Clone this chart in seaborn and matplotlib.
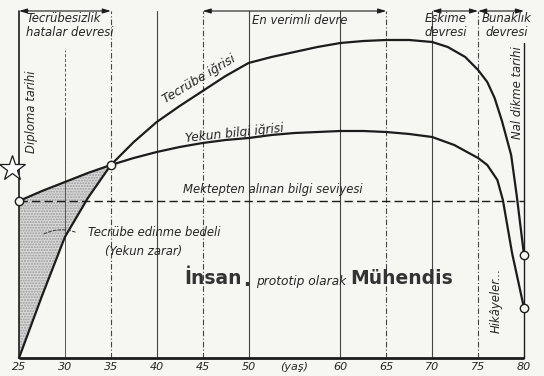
import matplotlib
matplotlib.use("Agg")
import matplotlib.pyplot as plt
import pandas as pd
import seaborn as sns

# ---- data (age, level in arbitrary units 0..350) ----
exp_ages = [25, 27.5, 30, 32.5, 35, 37.5, 40, 42.5, 45, 47.5, 50, 52.5, 55, 57.5,
            60, 62.5, 65, 67.5, 70, 71.7, 73.6, 75, 76, 76.8, 77.6, 78.6, 79.2, 80]
exp_vals = [0, 62, 121, 160, 193, 216, 236, 252, 267, 282, 295, 301, 306, 311,
            315, 317, 318, 318, 316, 311, 301, 288, 276, 260, 237, 203, 163, 103]

kno_ages = [25, 27.5, 30, 32.5, 35, 37.5, 40, 42.5, 45, 47.5, 50, 52.5, 55, 57.5,
            60, 62.5, 65, 67.5, 70, 72.4, 74, 75, 76, 77.1, 77.7, 78.7, 80]
kno_vals = [157, 167, 176, 185, 193, 200, 206, 211, 215, 218, 220, 223, 225, 226,
            227, 227, 226, 224, 221, 213, 205, 200, 193, 178, 158, 105, 50]

school_level = 157
tick_ages = [25, 30, 35, 40, 45, 50, 55, 60, 65, 70, 75, 80]
tick_labels = ["25", "30", "35", "40", "45", "50", "(yaş)", "60", "65", "70", "75", "80"]
solid_grid = [40, 50, 60, 70]
dashed_grid = [35, 45, 65, 75]
periods = [(25, 35), (45, 65), (70, 75), (75, 80)]

sns.set_theme(style="white")
plt.rcParams["font.family"] = ["DejaVu Sans"]

ink = "#1c1c1c"
paper = "#f6f6f3"

fig = plt.figure(figsize=(5.44, 3.76), dpi=100, facecolor=paper)
ax = fig.add_axes([19 / 544, 18 / 376, 505 / 544, 350 / 376])
ax.set_facecolor(paper)
ax.set_xlim(25, 80)
ax.set_ylim(0, 350)

# grid lines
ax.plot([25, 25], [0, 347], color=ink, lw=1.2, clip_on=False)
ax.plot([30, 30], [0, 308], color="#555", lw=0.7, ls=(0, (3, 2)))
ax.plot([30, 30], [0, 240], color="#555", lw=0.7)
for g in solid_grid:
    ax.plot([g, g], [0, 347], color="#444", lw=0.8, clip_on=False)
for g in dashed_grid:
    ax.plot([g, g], [0, 347], color="#444", lw=0.8, ls=(0, (5, 2, 1, 2)), clip_on=False)
ax.plot([80, 80], [0, 315], color=ink, lw=1.0, clip_on=False)

# school knowledge level
ax.plot([25, 80], [school_level, school_level], color=ink, lw=1.0, ls=(0, (6, 3)), clip_on=False)

# curves through seaborn
df_exp = pd.DataFrame({"yas": exp_ages, "deger": exp_vals})
df_kno = pd.DataFrame({"yas": kno_ages, "deger": kno_vals})
sns.lineplot(data=df_exp, x="yas", y="deger", ax=ax, color=ink, lw=1.6, sort=False, clip_on=False)
sns.lineplot(data=df_kno, x="yas", y="deger", ax=ax, color=ink, lw=1.6, sort=False, clip_on=False)

# shaded loss area between 25 and 35
shade_x = [a for a in exp_ages if a <= 35]
lo = [v for a, v in zip(exp_ages, exp_vals) if a <= 35]
hi = [v for a, v in zip(kno_ages, kno_vals) if a <= 35]
ax.fill_between(shade_x, lo, hi, facecolor="#dadada", edgecolor="#9a9a9a", hatch="......", lw=0)

# markers
ax.plot([25, 35, 80, 80], [school_level, 193, 103, 50], ls="none", marker="o", ms=6,
        mfc=paper, mec=ink, mew=1.0, clip_on=False, zorder=5)
ax.plot([24.2], [190], marker="*", ms=19, mfc="white", mec=ink, mew=0.9, clip_on=False, zorder=5)

# period brackets at the top
for a, b in periods:
    ax.annotate("", xy=(b, 347), xytext=(a, 347), annotation_clip=False,
                arrowprops=dict(arrowstyle="<|-|>,head_length=0.4,head_width=0.12",
                                color=ink, lw=0.8, shrinkA=0, shrinkB=0))

fs = 8.4
it = dict(style="italic", color="#262626", fontsize=fs)
ax.text(25.8, 346, "Tecrübesizlik\nhatalar devresi", ha="left", va="top", linespacing=1.1, **it)
ax.text(50.4, 338, "En verimli devre", ha="left", va="center", **it)
ax.text(71.5, 346, "Eskime\ndevresi", ha="center", va="top", linespacing=1.1, **it)
ax.text(78.1, 346, "Bunaklık\ndevresi", ha="center", va="top", linespacing=1.1, **it)
ax.text(26.4, 246, "Diploma tarihi", ha="center", va="center", rotation=90, **it)
ax.text(79.3, 265, "Nal dikme tarihi", ha="center", va="center", rotation=90, **it)
ax.text(77.0, 58, "Hikâyeler...", ha="center", va="center", rotation=90, **it)
ax.text(40.9, 255, "Tecrübe iğrisi", ha="left", va="baseline", rotation=31,
        rotation_mode="anchor", fontsize=8.9, style="italic", color="#262626")
ax.text(48.5, 225, "Yekun bilgi iğrisi", ha="center", va="center", rotation=6,
        rotation_mode="anchor", fontsize=8.8, style="italic", color="#262626")
ax.text(52.6, 169, "Mektepten alınan bilgi seviyesi", ha="center", va="center", **it)
ax.text(39.7, 125, "Tecrübe edinme bedeli", ha="center", va="center", **it)
ax.text(38.6, 106, "(Yekun zarar)", ha="center", va="center", **it)
ax.annotate("", xy=(27.3, 122), xytext=(31.4, 125),
            arrowprops=dict(arrowstyle="-", ls=(0, (3, 2)), color="#333", lw=0.7,
                            connectionstyle="arc3,rad=0.25"))

bold = dict(fontsize=13.5, fontweight="bold", color="#333333", va="center", ha="left")
ax.text(43.0, 79, "İnsan", **bold)
ax.text(49.4, 77, ".", **bold)
ax.text(50.8, 76, "prototip olarak", ha="left", va="center", fontsize=8.8, style="italic", color="#262626")
ax.text(61.1, 79, "Mühendis", **bold)

# bottom axis
ax.plot([25, 80], [0, 0], color=ink, lw=2.0, clip_on=False, solid_capstyle="butt")
sns.despine(ax=ax, left=True, bottom=True)
ax.set_xticks(tick_ages)
ax.set_xticklabels(tick_labels, style="italic", fontsize=8, color="#262626")
ax.set_yticks([])
ax.tick_params(axis="x", length=0, pad=3)
ax.set_xlabel("")
ax.set_ylabel("")

fig.savefig("out.png", dpi=100, facecolor=paper)
